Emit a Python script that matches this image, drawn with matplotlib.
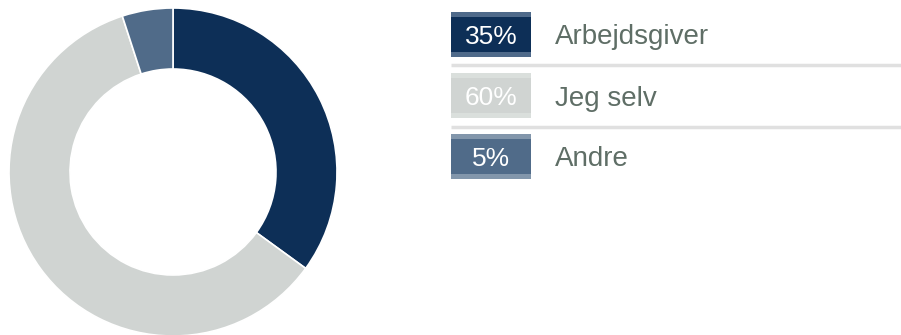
import matplotlib.pyplot as plt
from matplotlib.patches import Rectangle

labels = ['Arbejdsgiver', 'Jeg selv', 'Andre']
values = [35, 60, 5]
colors = ['#0d2f57', '#d0d4d2', '#506b89']
stripe_colors = ['#4f6a8a', '#dadfdc', '#8296ab']

W, H = 901, 335
fig = plt.figure(figsize=(W / 100, H / 100), dpi=100)
ax = fig.add_axes([0, 0, 1, 1])

# donut, starting at 12 o'clock and going clockwise
ax.pie(values, colors=colors, startangle=90, counterclock=False,
       center=(173, H - 172), radius=164, frame=True,
       wedgeprops=dict(width=61, edgecolor='white', linewidth=1.2))
ax.set_xlim(0, W)
ax.set_ylim(0, H)
ax.axis('off')

# legend rows
row_top = [12, 73, 134]
box_x, box_w, box_h, stripe = 451, 80, 45, 5
for i, (lab, v) in enumerate(zip(labels, values)):
    y0 = H - row_top[i] - box_h
    ax.add_patch(Rectangle((box_x, y0), box_w, box_h, color=stripe_colors[i], lw=0))
    ax.add_patch(Rectangle((box_x, y0 + stripe), box_w, box_h - 2 * stripe,
                           color=colors[i], lw=0))
    yc = y0 + box_h / 2
    ax.text(box_x + box_w / 2, yc, f'{v}%', color='white', fontsize=19,
            family='Liberation Sans', ha='center', va='center_baseline')
    ax.text(555, yc, lab, color='#5f6e66', fontsize=20,
            family='Liberation Sans', ha='left', va='center_baseline')

# separators
for y in [64.5, 126.5]:
    ax.plot([451, W], [H - y, H - y], color='#e0e0e0', lw=2.5, solid_capstyle='butt')

fig.savefig('out.png', dpi=100)
